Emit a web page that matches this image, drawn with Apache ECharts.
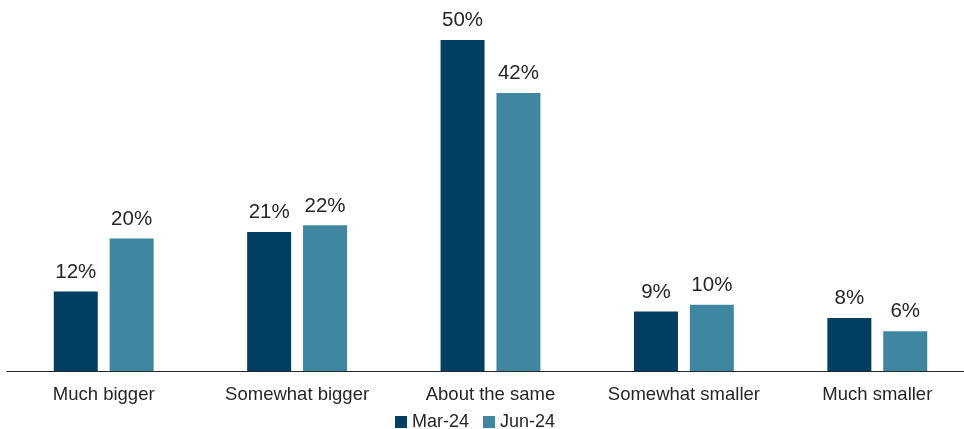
<!DOCTYPE html>
<html><head><meta charset="utf-8">
<script src="https://cdn.jsdelivr.net/npm/echarts@6/dist/echarts.min.js"></script>
<style>html,body{margin:0;padding:0;background:#fff;overflow:hidden;width:964px;height:429px}#c{width:974px;height:429px}</style>
</head><body><div id="c"></div>
<script>
var categories = ["Much bigger", "Somewhat bigger", "About the same", "Somewhat smaller", "Much smaller"];
var seriesNames = ["Mar-24", "Jun-24"];
var mar24 = [12, 21, 50, 9, 8];
var jun24 = [20, 22, 42, 10, 6];
var colors = ["#003f61", "#3f87a0"];

var chart = echarts.init(document.getElementById('c'));
var font = 'Liberation Sans, Arial, sans-serif';
function mk(name, data, color) {
  return {
    name: name, type: 'bar', data: data, barWidth: 44, barGap: '27%',
    itemStyle: { color: color },
    label: { show: true, position: 'top', distance: 9, formatter: '{c}%', color: '#262626', fontSize: 20.5, fontFamily: font }
  };
}
chart.setOption({
  animation: false,
  color: colors,
  legend: {
    top: 408, left: 390, itemWidth: 12, itemHeight: 12, itemGap: 14,
    icon: 'rect',
    textStyle: { color: '#262626', fontSize: 18, fontFamily: font },
    data: seriesNames
  },
  grid: { left: 7, right: 0, top: 40, bottom: 58, containLabel: false },
  xAxis: {
    type: 'category', data: categories,
    axisLine: { lineStyle: { color: '#262626', width: 1 } },
    axisTick: { show: false },
    axisLabel: { color: '#262626', fontSize: 18.5, fontFamily: font, margin: 14, interval: 0 }
  },
  yAxis: { type: 'value', min: 0, max: 50, show: false, splitLine: { show: false } },
  series: [mk(seriesNames[0], mar24, colors[0]), mk(seriesNames[1], jun24, colors[1])]
});
</script></body></html>
